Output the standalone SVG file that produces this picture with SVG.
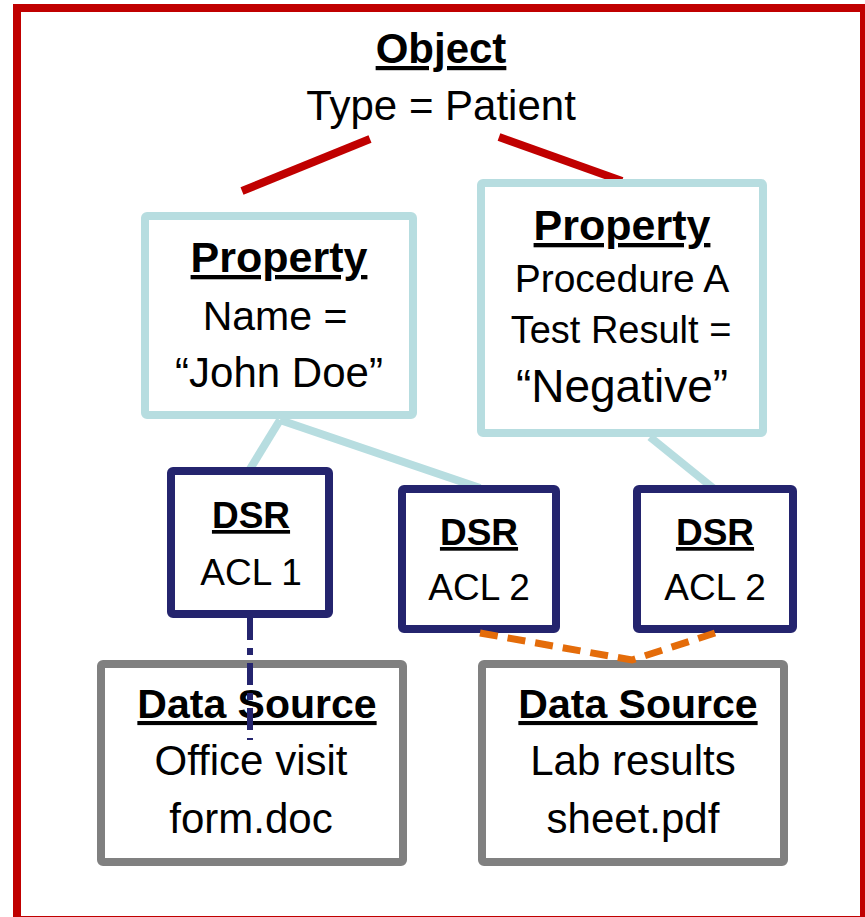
<svg xmlns="http://www.w3.org/2000/svg" width="865" height="917" viewBox="0 0 865 917">
<style>
text{font-family:"Liberation Sans",Arial,sans-serif;fill:#000;text-anchor:middle}
.h{font-weight:bold;text-decoration:underline}
.prop{fill:#fff;stroke:#b7dde0;stroke-width:8}
.dsr{fill:#fff;stroke:#24246e;stroke-width:8}
.src{fill:#fff;stroke:#808080;stroke-width:8}
.red{stroke:#c00000;stroke-width:8;fill:none}
.blue{stroke:#b7dde0;stroke-width:8;fill:none}
.nav{stroke:#24246e;stroke-width:6;fill:none;stroke-dasharray:22 8 7 8}
.org{stroke:#e46c0a;stroke-width:7;fill:none;stroke-dasharray:18 10}
</style>
<rect x="17" y="8" width="847" height="912" fill="#fff" stroke="#c00000" stroke-width="8"/>
<g id="object">
<text x="441" y="63" font-size="42" class="h">Object</text>
<text x="441" y="120" font-size="42">Type = Patient</text>
</g>
<g id="connectors">
<line class="red" x1="370" y1="139" x2="242" y2="191"/>
<line class="red" x1="499" y1="137" x2="622" y2="181"/>
<line class="blue" x1="280" y1="420" x2="250" y2="469"/>
<line class="blue" x1="280" y1="420" x2="480" y2="488"/>
<line class="blue" x1="650" y1="437" x2="713" y2="488"/>
</g>
<g id="property1">
<rect class="prop" x="145" y="216" width="268" height="199" rx="2"/>
<text x="279" y="272" font-size="43" class="h">Property</text>
<text x="275" y="330" font-size="41">Name =</text>
<text x="279" y="387" font-size="42">“John Doe”</text>
</g>
<g id="property2">
<rect class="prop" x="481" y="183" width="282" height="250" rx="2"/>
<text x="622" y="240" font-size="43" class="h">Property</text>
<text x="622" y="292" font-size="39">Procedure A</text>
<text x="621" y="343" font-size="38">Test Result =</text>
<text x="622" y="402" font-size="46">“Negative”</text>
</g>
<g id="dsr1">
<rect class="dsr" x="171" y="471" width="158" height="143" rx="2"/>
<text x="251" y="528" font-size="37" class="h">DSR</text>
<text x="251" y="585" font-size="37">ACL 1</text>
</g>
<g id="dsr2">
<rect class="dsr" x="402" y="489" width="154" height="140" rx="2"/>
<text x="479" y="545" font-size="37" class="h">DSR</text>
<text x="479" y="600" font-size="37">ACL 2</text>
</g>
<g id="dsr3">
<rect class="dsr" x="637" y="489" width="156" height="140" rx="2"/>
<text x="715" y="545" font-size="37" class="h">DSR</text>
<text x="715" y="600" font-size="37">ACL 2</text>
</g>
<g id="source1">
<rect class="src" x="101" y="664" width="302" height="198" rx="2"/>
<text x="257" y="718" font-size="41" class="h">Data Source</text>
<text x="251" y="775" font-size="42">Office visit</text>
<text x="251" y="833" font-size="42">form.doc</text>
</g>
<g id="source2">
<rect class="src" x="482" y="664" width="302" height="198" rx="2"/>
<text x="638" y="718" font-size="41" class="h">Data Source</text>
<text x="633" y="775" font-size="42">Lab results</text>
<text x="633" y="833" font-size="42">sheet.pdf</text>
</g>
<g id="connectors-front">
<line class="nav" x1="250" y1="618" x2="250" y2="740"/>
<polyline class="org" points="480,633 632,660 715,633"/>
</g>
</svg>
